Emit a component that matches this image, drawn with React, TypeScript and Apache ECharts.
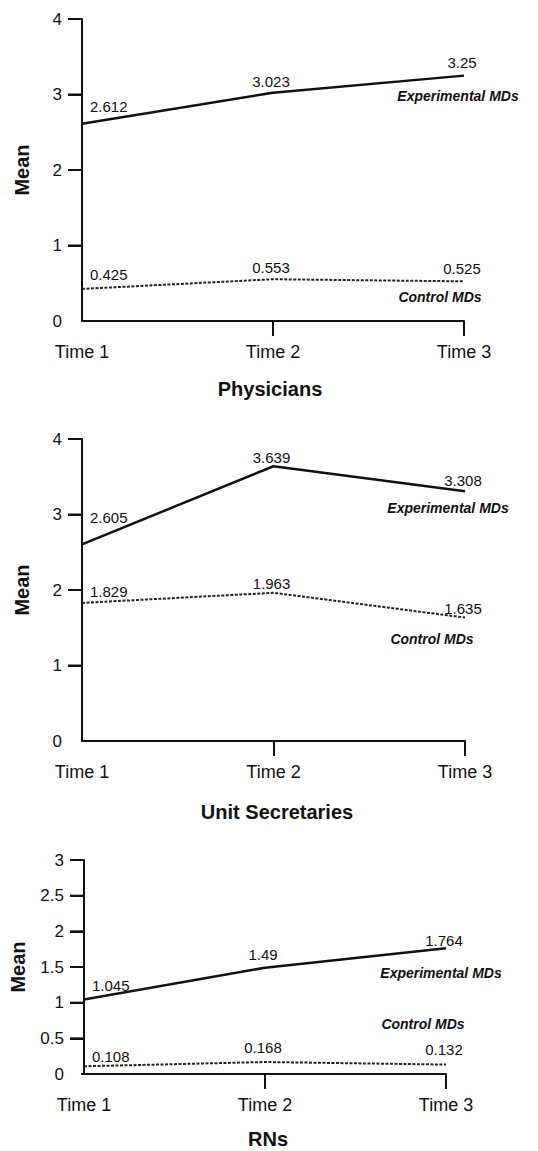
import React, { useEffect, useRef } from "react";
import * as echarts from "echarts";

const categories = ["Time 1", "Time 2", "Time 3"];

const physiciansExperimental = [2.612, 3.023, 3.25];
const physiciansControl = [0.425, 0.553, 0.525];
const secretariesExperimental = [2.605, 3.639, 3.308];
const secretariesControl = [1.829, 1.963, 1.635];
const rnsExperimental = [1.045, 1.49, 1.764];
const rnsControl = [0.108, 0.168, 0.132];

const panelTitles = ["Physicians", "Unit Secretaries", "RNs"];
const yMax = [4, 4, 3];
const yStep = [1, 1, 0.5];
const seriesNames = ["Experimental MDs", "Control MDs"];

const FONT = "'Liberation Sans', Arial, Helvetica, sans-serif";
const INK = "#111";

const panels = [
  { exp: physiciansExperimental, ctl: physiciansControl, grid: { left: 82, top: 19, width: 382, height: 302 }, expLift: [10, 4, 6], ctlLift: [7, 4, 5], nameGap: 50 },
  { exp: secretariesExperimental, ctl: secretariesControl, grid: { left: 82, top: 439, width: 383, height: 302 }, expLift: [19, 1, 3], ctlLift: [4, 2, 2], nameGap: 50 },
  { exp: rnsExperimental, ctl: rnsControl, grid: { left: 82, top: 860, width: 364, height: 214 }, expLift: [6, 6, 0], ctlLift: [2, 7, 8], nameGap: 56 },
];

const tagPos = [
  { exp: [458, 96], ctl: [440, 297], title: [270, 389] },
  { exp: [448, 508], ctl: [432, 639], title: [277, 812] },
  { exp: [441, 973], ctl: [423, 1024], title: [268, 1139] },
];

function buildData(values: number[], lifts: number[]) {
  return values.map((v, i) => ({
    value: v,
    label: {
      distance: lifts[i],
      align: i === 0 ? "left" : "center",
      offset: i === 0 ? [8, 0] : [-2, 0],
    },
  }));
}

export default function App() {
  const ref = useRef<HTMLDivElement>(null);
  useEffect(() => {
    if (!ref.current) return;
    const chart = echarts.init(ref.current, undefined, { renderer: "svg" });
    const grids: any[] = [];
    const xAxes: any[] = [];
    const yAxes: any[] = [];
    const series: any[] = [];
    const graphics: any[] = [];
    panels.forEach((p, k) => {
      grids.push({ ...p.grid });
      xAxes.push({
        type: "category",
        gridIndex: k,
        data: categories,
        boundaryGap: false,
        axisLine: { lineStyle: { color: INK, width: 2 } },
        axisTick: { show: true, length: 15, lineStyle: { color: INK, width: 2 }, interval: (idx: number) => idx > 0 },
        axisLabel: { color: INK, fontSize: 18, fontFamily: FONT, margin: 22, interval: 0 },
        splitLine: { show: false },
      });
      yAxes.push({
        type: "value",
        gridIndex: k,
        min: 0,
        max: yMax[k],
        interval: yStep[k],
        name: "Mean",
        nameLocation: "middle",
        nameGap: p.nameGap,
        nameTextStyle: { color: INK, fontSize: 20, fontWeight: "bold", fontFamily: FONT },
        axisLine: { show: true, lineStyle: { color: INK, width: 2 } },
        axisTick: { show: true, length: 14, lineStyle: { color: INK, width: 2 } },
        axisLabel: { color: INK, fontSize: 17, fontFamily: FONT, margin: 20 },
        splitLine: { show: false },
      });
      // y-axis ticks except zero, placed through the axis scale
      const tickVals: number[][] = [];
      const n = Math.round(yMax[k] / yStep[k]);
      for (let j = 1; j <= n; j++) tickVals.push([0, j * yStep[k]]);
      series.push({
        type: "custom",
        xAxisIndex: k,
        yAxisIndex: k,
        coordinateSystem: "cartesian2d",
        silent: true,
        z: 5,
        data: tickVals,
        renderItem: (params: any, api: any) => {
          const pt = api.coord([api.value(0), api.value(1)]);
          return {
            type: "rect",
            shape: { x: pt[0] - 14, y: pt[1] - 1, width: 14, height: 2 },
            style: { fill: INK },
          };
        },
      });
      const labelBase = { show: true, position: "top", color: INK, fontSize: 15, fontFamily: FONT };
      series.push({
        name: seriesNames[0],
        type: "line",
        xAxisIndex: k,
        yAxisIndex: k,
        data: buildData(p.exp, p.expLift),
        symbol: "circle",
        symbolSize: 0,
        showSymbol: true,
        lineStyle: { color: INK, width: 2.5 },
        itemStyle: { color: INK },
        label: labelBase,
      });
      series.push({
        name: seriesNames[1],
        type: "line",
        xAxisIndex: k,
        yAxisIndex: k,
        data: buildData(p.ctl, p.ctlLift),
        symbol: "circle",
        symbolSize: 0,
        showSymbol: true,
        lineStyle: { color: "#222", width: 2, type: [3, 1.5] },
        itemStyle: { color: "#222" },
        label: labelBase,
      });
      const g = p.grid;
      // the reference draws no tick at zero
      graphics.push({
        type: "rect",
        z: 100,
        shape: { x: g.left - 15, y: g.top + g.height - 2, width: 14, height: 4 },
        style: { fill: "#fff" },
      });
      const t = tagPos[k];
      graphics.push({
        type: "text",
        x: t.exp[0],
        y: t.exp[1],
        style: { text: seriesNames[0], fill: INK, font: `italic bold 14px ${FONT}`, align: "center", verticalAlign: "middle" },
      });
      graphics.push({
        type: "text",
        x: t.ctl[0],
        y: t.ctl[1],
        style: { text: seriesNames[1], fill: INK, font: `italic bold 14px ${FONT}`, align: "center", verticalAlign: "middle" },
      });
      graphics.push({
        type: "text",
        x: t.title[0],
        y: t.title[1],
        style: { text: panelTitles[k], fill: INK, font: `bold 20px ${FONT}`, align: "center", verticalAlign: "middle" },
      });
    });
    chart.setOption({
      animation: false,
      backgroundColor: "#fff",
      grid: grids,
      xAxis: xAxes,
      yAxis: yAxes,
      series,
      graphic: graphics,
    });
    return () => chart.dispose();
  }, []);
  return <div ref={ref} style={{ position: "absolute", left: 0, top: 0, width: 538, height: 1151 }} />;
}
